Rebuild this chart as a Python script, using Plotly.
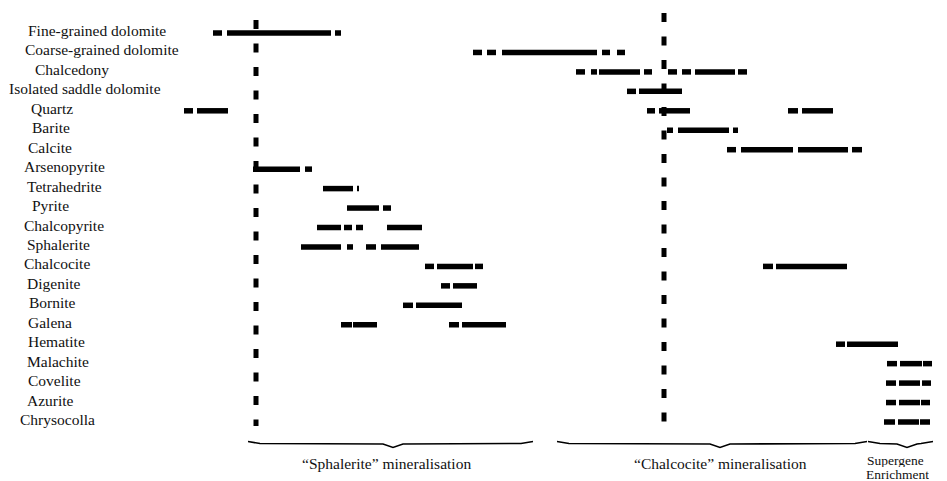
import plotly.graph_objects as go

# ---------------- data ----------------
minerals = [
    "Fine-grained dolomite", "Coarse-grained dolomite", "Chalcedony",
    "Isolated saddle dolomite", "Quartz", "Barite", "Calcite", "Arsenopyrite",
    "Tetrahedrite", "Pyrite", "Chalcopyrite", "Sphalerite", "Chalcocite",
    "Digenite", "Bornite", "Galena", "Hematite", "Malachite", "Covelite",
    "Azurite", "Chrysocolla",
]

# relative-time intervals (start, end) for each mineral, on a 0-947 time scale
fine_dolomite = [(213, 222), (227, 331), (335, 341)]
coarse_dolomite = [(473, 482), (487, 496), (502, 597), (602, 610), (617, 625)]
chalcedony = [(576, 585), (591, 597), (599, 640), (644, 652), (668, 677), (682, 691), (695, 735), (738, 747)]
saddle_dolomite = [(627, 636), (639, 682)]
quartz = [(184, 193), (197, 228), (647, 655), (659, 690), (788, 798), (802, 833)]
barite = [(667, 673), (678, 729), (733, 738)]
calcite = [(727, 736), (741, 793), (798, 848), (852, 862)]
arsenopyrite = [(253, 300), (305, 312)]
tetrahedrite = [(323, 353), (357, 359)]
pyrite = [(347, 379), (383, 391)]
chalcopyrite = [(317, 341), (344, 352), (356, 363), (387, 422)]
sphalerite = [(301, 341), (347, 353), (366, 376), (381, 419)]
chalcocite = [(425, 434), (437, 473), (475, 483), (763, 773), (776, 847)]
digenite = [(441, 450), (453, 477)]
bornite = [(403, 413), (416, 462)]
galena = [(341, 352), (353, 377), (449, 459), (462, 506)]
hematite = [(836, 845), (847, 898)]
malachite = [(887, 897), (900, 922), (923, 932)]
covelite = [(886, 896), (899, 920), (922, 931)]
azurite = [(886, 896), (899, 920), (921, 930)]
chrysocolla = [(884, 895), (898, 919), (920, 930)]

intervals = [
    fine_dolomite, coarse_dolomite, chalcedony, saddle_dolomite, quartz, barite,
    calcite, arsenopyrite, tetrahedrite, pyrite, chalcopyrite, sphalerite,
    chalcocite, digenite, bornite, galena, hematite, malachite, covelite,
    azurite, chrysocolla,
]

# boundaries between stages (vertical dashed markers)
stage_boundaries = [256, 664]

stage_names = ["\u201cSphalerite\u201d mineralisation", "\u201cChalcocite\u201d mineralisation"]

# ---------------- layout helpers ----------------
OFF = 8                      # default page body margin
W, H = 947, 481              # window size
ROW0_PX, ROW_STEP = 33.0, 19.45


def r(py):
    """window pixel row -> row-index units"""
    return (py - ROW0_PX) / ROW_STEP


def xp(px):
    """window pixel column -> paper fraction"""
    return (px - OFF) / (W - OFF)


label_left = [28, 25, 35, 9, 31, 32, 28, 24, 27, 32, 24, 27, 24, 27, 29, 28, 28, 27, 28, 27, 20]
FONT = dict(family="Liberation Serif, Times New Roman, serif", size=15.5, color="#111")
FONT_S = dict(family="Liberation Serif, Times New Roman, serif", size=13.5, color="#111")

fig = go.Figure()

# bars
bx, by = [], []
for i, segs in enumerate(intervals):
    for a, b in segs:
        bx += [a, b, None]
        by += [i, i, None]
fig.add_trace(go.Scatter(x=bx, y=by, mode="lines",
                         line=dict(color="black", width=5.5),
                         hoverinfo="skip", showlegend=False))

# vertical dashed stage boundaries
tops = [20, 13]
for xb, top in zip(stage_boundaries, tops):
    fig.add_trace(go.Scatter(x=[xb, xb], y=[r(top), r(426)], mode="lines",
                             line=dict(color="black", width=5, dash="9px,14.5px"),
                             hoverinfo="skip", showlegend=False))


# braces
def brace(x0, x1, xm, ye, yl, yd):
    return [(x0, ye), (x0 + 12, yl), (xm - 10, yl + 0.5), (xm, yd),
            (xm + 10, yl + 0.5), (x1 - 12, yl), (x1, ye)]


brace_defs = [(248, 533, 393), (557, 867, 720), (868, 933, 907)]
for x0, x1, xm in brace_defs:
    pts = brace(x0, x1, xm, 441.5, 443.5, 447.5)
    path = "M " + " L ".join(f"{px},{r(py)}" for px, py in pts)
    fig.add_shape(type="path", path=path, xref="x", yref="y",
                  line=dict(color="black", width=1.6))

# mineral labels
for i, name in enumerate(minerals):
    fig.add_annotation(x=xp(label_left[i] - 2), xref="paper", y=i, text=name,
                       showarrow=False, xanchor="left", yanchor="middle",
                       yshift=2.5, font=FONT)

# stage labels
fig.add_annotation(x=386, y=r(463), text=stage_names[0], showarrow=False,
                   xanchor="center", yanchor="middle", font=FONT)
fig.add_annotation(x=720, y=r(463), text=stage_names[1], showarrow=False,
                   xanchor="center", yanchor="middle", font=FONT)
fig.add_annotation(x=865, y=r(460), text="Supergene", showarrow=False,
                   xanchor="left", yanchor="middle", height=14, font=FONT_S)
fig.add_annotation(x=864, y=r(474), text="Enrichment", showarrow=False,
                   xanchor="left", yanchor="middle", height=14, font=FONT_S)

fig.update_layout(
    width=W - OFF, height=H - OFF,
    margin=dict(l=0, r=0, t=0, b=0),
    paper_bgcolor="white", plot_bgcolor="white",
    xaxis=dict(range=[OFF, W], visible=False, fixedrange=True),
    yaxis=dict(range=[r(H), r(OFF)], visible=False, fixedrange=True),
    showlegend=False,
)

fig.write_html("out.html")
